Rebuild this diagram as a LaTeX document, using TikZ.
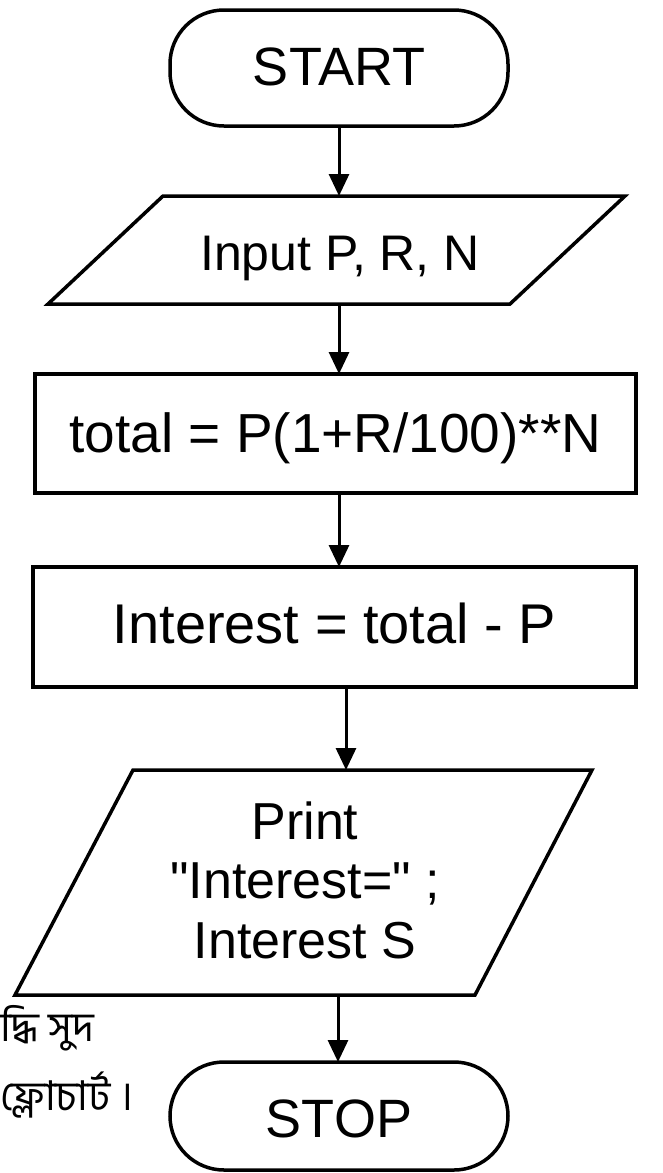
\documentclass[tikz,border=0pt]{standalone}
\usepackage{fontspec}
\setmainfont{Liberation Sans}[Ligatures=TeXOff]
\newfontfamily\bengfont[Script=Bengali]{Hind Siliguri}
\usetikzlibrary{arrows.meta}
\begin{document}
\begin{tikzpicture}[x=1pt,y=-1pt,
  line width=3.5pt,
  every node/.style={inner sep=0pt,outer sep=0pt},
  term/.style={draw,rectangle,rounded corners=54pt,minimum width=338pt,minimum height=114pt,font=\fontsize{54}{60}\selectfont},
  procbox/.style={draw,rectangle,font=\fontsize{55}{60}\selectfont},
  lbl/.style={anchor=base,align=center},
  iobox/.style={draw,line join=miter},
  flow/.style={-{Triangle[length=22pt,width=20pt]},line width=3pt},
  bn/.style={anchor=base west,font=\bengfont\fontsize{41}{48}\selectfont},
]
\useasboundingbox (0,0) rectangle (663,1173);

% START
\node[term,minimum height=116pt,text height=38pt,text depth=4pt] (start) at (339,68) {START};

% Input parallelogram
\draw[iobox] (163,196) -- (625,196) -- (510,304) -- (48,304) -- cycle;
\coordinate (inpt) at (339,196);
\coordinate (inpb) at (339,304);
\node[lbl,font=\fontsize{50}{60}\selectfont] (inp) at (340,270) {Input P, R, N};

% total box
\node[procbox,minimum width=601pt,minimum height=119pt,text height=37pt,text depth=0pt] (total) at (335.5,433.5) {total = P(1+R/100)**N};

% Interest box
\node[procbox,font=\fontsize{56}{60}\selectfont,minimum width=603pt,minimum height=120pt,text height=38pt,text depth=6pt] (intr) at (334.5,627) {Interest = total - P};

% Print parallelogram
\draw[iobox] (133,770) -- (592,770) -- (475,995) -- (15,995) -- cycle;
\coordinate (prtt) at (346,770);
\coordinate (prtb) at (338,995);
\node[align=center,font=\fontsize{52}{59.5}\selectfont] (prt) at (305,880) {Print\\"Interest=" ;\\Interest S};

% STOP
\node[term,minimum height=108pt,text height=42pt,text depth=0pt] (stop) at (339,1116) {STOP};

% Bengali caption (cut at left edge)
\node[bn] (cap1) at (0,1041) {দ্ধি সুদ};
\node[bn] (cap2) at (0,1110) {ফ্লোচার্ট ।};

% connectors
\draw[flow] (start.south) -- (inpt);
\draw[flow] (inpb) -- (inpb |- total.north);
\draw[flow] (inpb |- total.south) -- (inpb |- intr.north);
\draw[flow] (prtt |- intr.south) -- (prtt);
\draw[flow] (prtb) -- (prtb |- stop.north);
\end{tikzpicture}
\end{document}
